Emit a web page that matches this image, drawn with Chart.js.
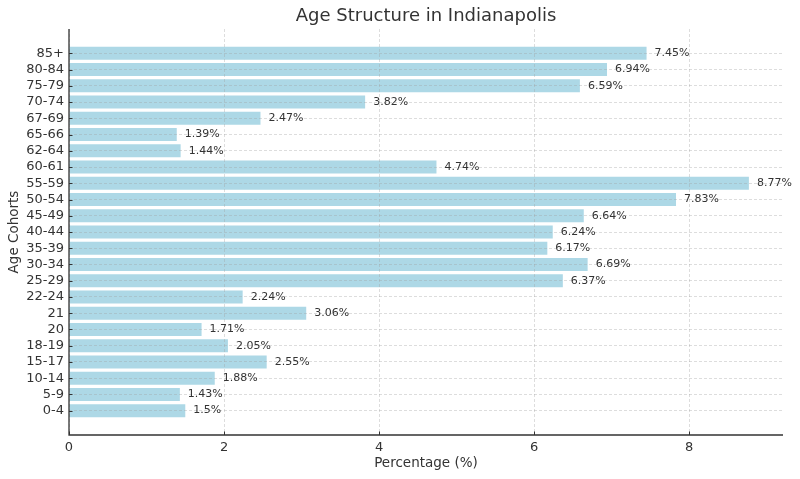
<!DOCTYPE html>
<html>
<head>
<meta charset="utf-8">
<script src="https://cdn.jsdelivr.net/npm/chart.js@4"></script>
<style>
  html, body { margin: 0; padding: 0; background: #fff; }
  #wrap { width: 800px; height: 479px; }
</style>
</head>
<body>
<div id="wrap"><canvas id="chart" width="800" height="479"></canvas></div>
<script>
// Age cohorts, bottom to top
const cohorts = ['0-4', '5-9', '10-14', '15-17', '18-19', '20', '21', '22-24', '25-29', '30-34',
    '35-39', '40-44', '45-49', '50-54', '55-59', '60-61', '62-64', '65-66', '67-69', '70-74',
    '75-79', '80-84', '85+'];
const percentages = [1.5, 1.43, 1.88, 2.55, 2.05, 1.71, 3.06, 2.24, 6.37, 6.69,
    6.17, 6.24, 6.64, 7.83, 8.77, 4.74, 1.44, 1.39, 2.47, 3.82,
    6.59, 6.94, 7.45];
const xTicks = [0, 2, 4, 6, 8];

const FONT = 'DejaVu Sans, sans-serif';
const TEXT = '#333333';
const GRID = 'rgba(160,160,160,0.45)';

// empty slot above and below, like the reference's y padding
const labels = [''].concat(cohorts, ['']);
const values = [null].concat(percentages, [null]);

const textPlugin = {
    id: 'texts',
    afterDraw(chart) {
        const ctx = chart.ctx;
        const x = chart.scales.x, y = chart.scales.y;
        const area = chart.chartArea;
        ctx.save();
        // spines (left and bottom only) and inward tick marks
        ctx.strokeStyle = '#333';
        ctx.lineWidth = 1.3;
        ctx.beginPath();
        ctx.moveTo(area.left, area.top);
        ctx.lineTo(area.left, area.bottom);
        ctx.lineTo(area.right, area.bottom);
        ctx.stroke();
        ctx.lineWidth = 1;
        ctx.beginPath();
        values.forEach((v, i) => {
            if (v === null) return;
            const py = Math.round(y.getPixelForValue(i)) + 0.5;
            ctx.moveTo(area.left, py);
            ctx.lineTo(area.left + 3.5, py);
        });
        xTicks.forEach(t => {
            const px = Math.round(x.getPixelForValue(t)) + 0.5;
            ctx.moveTo(px, area.bottom);
            ctx.lineTo(px, area.bottom - 3.5);
        });
        ctx.stroke();
        // value labels
        ctx.font = '11px ' + FONT;
        ctx.fillStyle = TEXT;
        ctx.textAlign = 'left';
        ctx.textBaseline = 'middle';
        values.forEach((v, i) => {
            if (v === null) return;
            ctx.fillText(v + '%', x.getPixelForValue(v) + 8, y.getPixelForValue(i));
        });
        // title
        ctx.font = '18px ' + FONT;
        ctx.textAlign = 'center';
        ctx.fillText('Age Structure in Indianapolis', (area.left + area.right) / 2, 16);
        // axis titles
        ctx.font = '13.5px ' + FONT;
        ctx.fillText('Percentage (%)', (area.left + area.right) / 2, 463);
        ctx.translate(14, (area.top + area.bottom) / 2);
        ctx.rotate(-Math.PI / 2);
        ctx.fillText('Age Cohorts', 0, 0);
        ctx.restore();
    }
};

new Chart(document.getElementById('chart'), {
    type: 'bar',
    data: {
        labels: labels,
        datasets: [{
            data: values,
            backgroundColor: '#ADD8E6',
            borderWidth: 0,
            barPercentage: 0.8,
            categoryPercentage: 1.0
        }]
    },
    options: {
        indexAxis: 'y',
        responsive: false,
        animation: false,
        layout: { padding: { top: 29, right: 17, left: 0, bottom: 0 } },
        plugins: {
            legend: { display: false },
            tooltip: { enabled: false }
        },
        scales: {
            x: {
                min: 0,
                max: 9.21,
                afterBuildTicks: (scale) => { scale.ticks = xTicks.map(v => ({ value: v })); },
                afterFit: (scale) => { scale.height = 44; },
                border: { display: false, dash: [3, 2] },
                grid: {
                    color: GRID,
                    lineWidth: 0.8,
                    drawTicks: false,
                    z: 1
                },
                ticks: {
                    color: TEXT,
                    font: { family: FONT, size: 13 },
                    padding: 5
                }
            },
            y: {
                reverse: true,
                offset: true,
                afterFit: (scale) => { scale.width = 69; },
                border: { display: false, dash: [3, 2] },
                grid: {
                    offset: false,
                    drawTicks: false,
                    lineWidth: 0.8,
                    z: 1,
                    color: (c) => (c.index === 0 || c.index === labels.length - 1) ? 'rgba(0,0,0,0)' : GRID
                },
                ticks: {
                    autoSkip: false,
                    color: TEXT,
                    font: { family: FONT, size: 13 },
                    padding: 5
                }
            }
        }
    },
    plugins: [textPlugin]
});
</script>
</body>
</html>
